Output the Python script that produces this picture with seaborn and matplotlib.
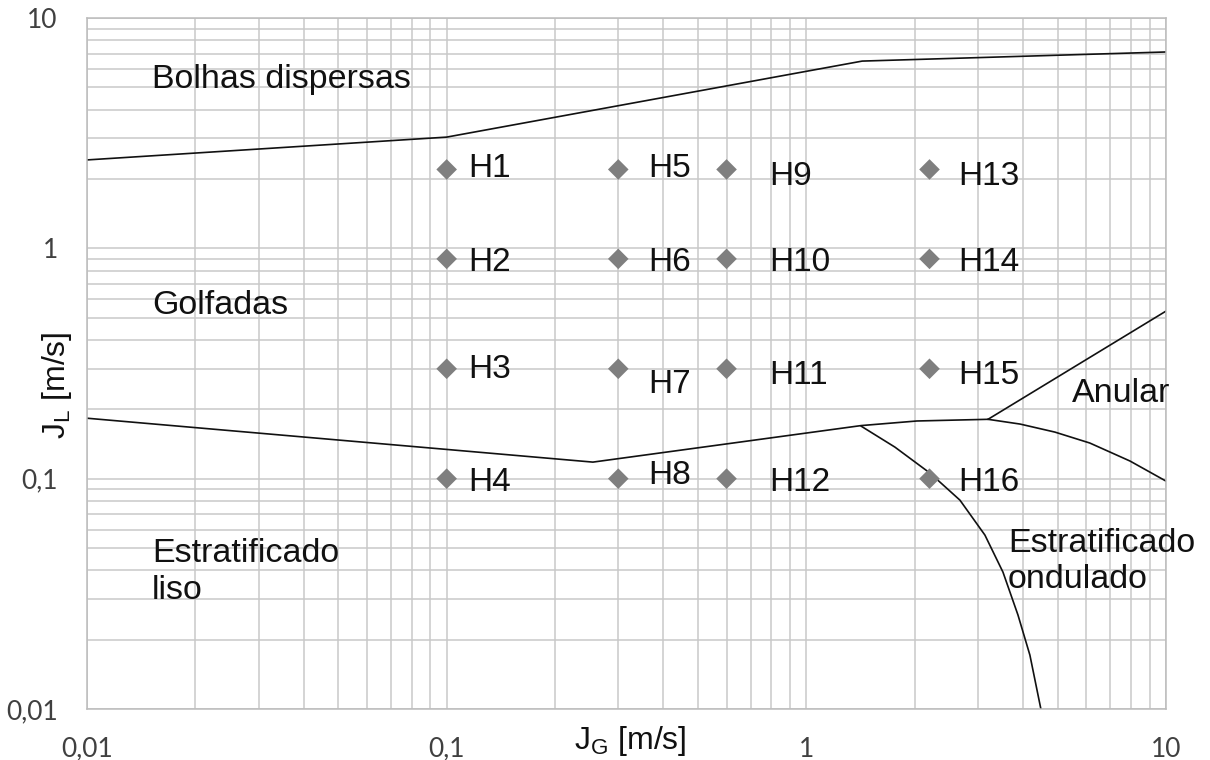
import numpy as np
import pandas as pd
import matplotlib
matplotlib.use("Agg")
import matplotlib.pyplot as plt
from matplotlib.ticker import LogLocator, NullFormatter
import seaborn as sns

# ---------------- data ----------------
point_names = ["H1", "H2", "H3", "H4", "H5", "H6", "H7", "H8",
               "H9", "H10", "H11", "H12", "H13", "H14", "H15", "H16"]
point_jg = [0.1, 0.1, 0.1, 0.1, 0.3, 0.3, 0.3, 0.3,
            0.6, 0.6, 0.6, 0.6, 2.2, 2.2, 2.2, 2.2]
point_jl = [2.2, 0.9, 0.3, 0.1, 2.2, 0.9, 0.3, 0.1,
            2.2, 0.9, 0.3, 0.1, 2.2, 0.9, 0.3, 0.1]

# transition boundaries
bolhas_jg = [0.01, 0.1, 1.43, 10]
bolhas_jl = [2.42, 3.04, 6.5, 7.12]

liso_jg = [0.01, 0.255, 1.42, 2.03, 3.2]
liso_jl = [0.183, 0.118, 0.170, 0.178, 0.181]

wavy_annular_jg = [3.2, 3.93, 4.91, 6.14, 7.94, 10]
wavy_annular_jl = [0.181, 0.1726, 0.1593, 0.1428, 0.1193, 0.0976]

anular_jg = [3.2, 10]
anular_jl = [0.181, 0.534]

ondulado_jg = [1.419, 1.763, 2.207, 2.673, 3.137, 3.521, 3.876, 4.184, 4.489]
ondulado_jl = [0.1692, 0.1371, 0.1057, 0.0807, 0.0569, 0.0393, 0.0256, 0.01714, 0.00999]

tick_values = [0.01, 0.1, 1, 10]
tick_labels = ["0,01", "0,1", "1", "10"]

region_labels = ["Bolhas dispersas", "Golfadas", "Estratificado", "liso",
                 "Anular", "Estratificado", "ondulado"]

# ---------------- styling / layout ----------------
sns.set_style("white")
plt.rcParams["font.family"] = ["Liberation Sans", "DejaVu Sans"]
plt.rcParams["mathtext.fontset"] = "custom"
plt.rcParams["mathtext.rm"] = "Liberation Sans"

W, H = 1210, 760
L, R, T, B = 87, 1166, 18, 709
fig = plt.figure(figsize=(W / 100, H / 100), dpi=100)
ax = fig.add_axes([L / W, 1 - B / H, (R - L) / W, (B - T) / H])

ax.set_xscale("log")
ax.set_yscale("log")
ax.set_xlim(0.01, 10)
ax.set_ylim(0.01, 10)

grid_col = "#c9c9c9"
for axis in (ax.xaxis, ax.yaxis):
    axis.set_minor_locator(LogLocator(base=10, subs=np.arange(2, 10)))
    axis.set_minor_formatter(NullFormatter())
ax.grid(which="both", color=grid_col, lw=1.1)
ax.set_axisbelow(True)
for sp in ax.spines.values():
    sp.set_color("#bcbcbc")
    sp.set_linewidth(1.1)

ax.set_xticks(tick_values, labels=tick_labels)
ax.set_yticks(tick_values, labels=tick_labels)
ax.tick_params(which="both", length=0)
ax.tick_params(axis="x", pad=20)
ax.tick_params(axis="y", pad=21)
for lab in ax.get_xticklabels() + ax.get_yticklabels():
    lab.set_family(["Lato", "DejaVu Sans"])
    lab.set_fontsize(19)
    lab.set_color("#404040")

# boundaries
line_kw = dict(color="#111111", lw=1.2, sort=False, estimator=None, legend=False, ax=ax)
sns.lineplot(x=bolhas_jg, y=bolhas_jl, **line_kw)
sns.lineplot(x=liso_jg, y=liso_jl, **line_kw)
sns.lineplot(x=wavy_annular_jg, y=wavy_annular_jl, **line_kw)
sns.lineplot(x=anular_jg, y=anular_jl, **line_kw)
sns.lineplot(x=ondulado_jg, y=ondulado_jl, **line_kw)

# experimental points
pts = pd.DataFrame({"jg": point_jg, "jl": point_jl, "name": point_names})
sns.scatterplot(data=pts, x="jg", y="jl", marker="D", s=110, color="#7f7f7f",
                edgecolor="none", legend=False, ax=ax, zorder=3)

# point labels: offsets in pixels (dx to text left, dy of cap centre, +down)
label_dx = [22, 22, 22, 22, 30, 30, 30, 30, 43, 43, 43, 43, 29, 29, 29, 29]
label_dy = [-4, 0, -3, 0, -4, 0, 12, -7, 4, 0, 3, 0, 4, 0, 3, 0]
px2pt = 0.72
for name, xg, yl, dx, dy in zip(point_names, point_jg, point_jl, label_dx, label_dy):
    ax.annotate(name, (xg, yl), xytext=(dx * px2pt, -(dy + 12) * px2pt),
                textcoords="offset points", ha="left", va="baseline",
                fontsize=24, color="#111111")

# region labels (baseline positions in pixels)
region_px = [(152, 88), (152, 314), (152, 562), (152, 599),
             (1072, 402), (1008, 552), (1008, 588)]
for txt, (px, py) in zip(region_labels, region_px):
    ax.text((px - L) / (R - L), (B - py) / (B - T), txt, transform=ax.transAxes,
            ha="left", va="baseline", fontsize=24.5, color="#111111")

# axis labels
ax.set_xlabel(r"$\mathrm{J_G}$ [m/s]", fontsize=23, color="#111111")
ax.set_ylabel(r"$\mathrm{J_L}$ [m/s]", fontsize=23, color="#111111")
ax.xaxis.label.set_va("center")
ax.yaxis.label.set_va("center")
ax.xaxis.set_label_coords((630 - L) / (R - L), (B - 741) / (B - T))
ax.yaxis.set_label_coords((57 - L) / (R - L), (B - 385) / (B - T))

fig.savefig("out.png", dpi=100)
